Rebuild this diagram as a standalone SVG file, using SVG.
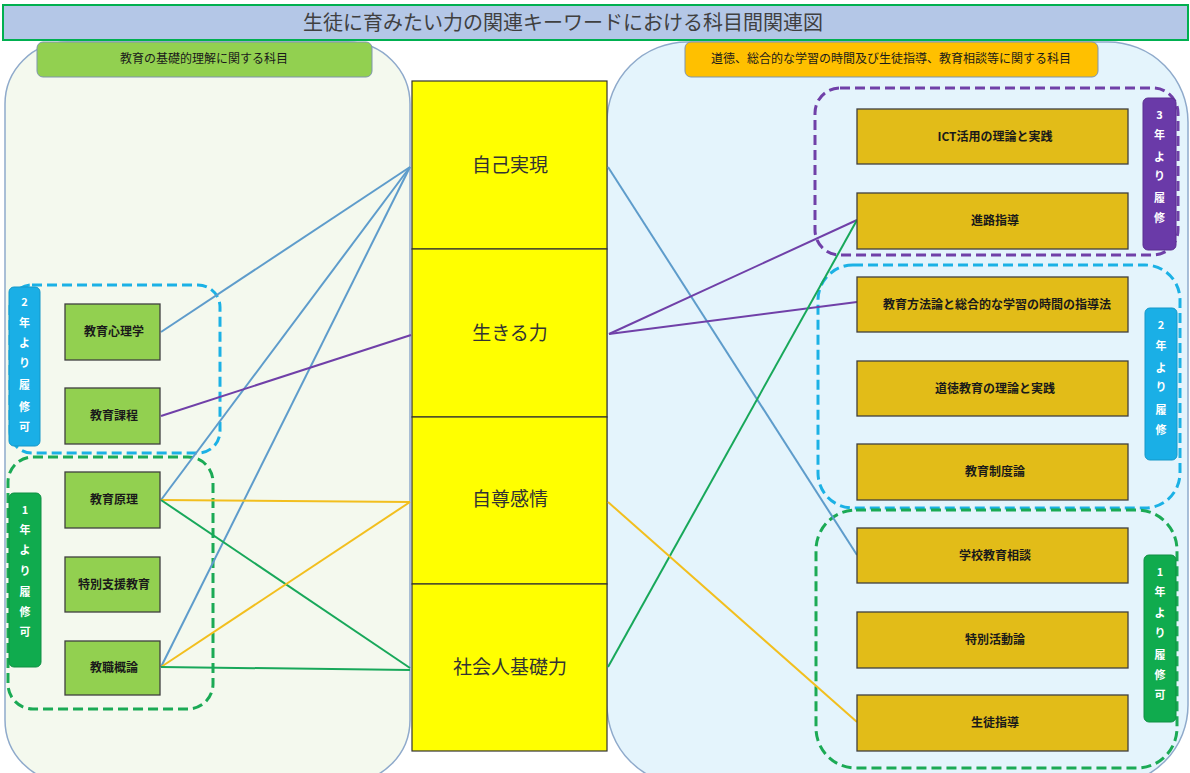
<svg xmlns="http://www.w3.org/2000/svg" width="1190" height="773" viewBox="0 0 1190 773">
<style>
text{font-family:"Noto Sans CJK JP","Noto Sans",sans-serif;}
.panel{stroke:#8FAACB;stroke-width:1.5;}
.hdr{stroke:#7F95AE;stroke-width:1;}
.hdrt{font-size:12px;fill:#1a1a1a;text-anchor:middle;}
.cell{fill:#FFFF00;stroke:#333;stroke-width:1.2;}
.cellt{font-size:19px;fill:#333;text-anchor:middle;}
.gbox{fill:#92D050;stroke:#3F3F3F;stroke-width:1.3;}
.ybox{fill:#E2BC18;stroke:#3F3F3F;stroke-width:1.3;}
.bt{font-size:12px;font-weight:bold;fill:#1a1a1a;text-anchor:middle;}
.dash{fill:none;stroke-width:3;stroke-dasharray:10 5;}
.lbl{stroke-width:1;}
.lt{font-size:11px;font-weight:bold;fill:#fff;text-anchor:middle;}
.c{fill:none;stroke-width:2;}
.blue{stroke:#5E9CCB;}
.purple{stroke:#7040A8;}
.orange{stroke:#F2BF1E;}
.green{stroke:#18A85A;}
</style>

<!-- panels -->
<g id="left-panel">
<rect class="panel" x="5" y="42" width="405" height="740" rx="62" fill="#F4F9EE"/>
</g>
<g id="right-panel">
<rect class="panel" x="607" y="42" width="581" height="743" rx="80" fill="#E4F4FC"/>
</g>

<!-- title -->
<g id="title">
<rect x="3" y="5" width="1185" height="35" fill="#B4C7E7" stroke="#00B050" stroke-width="2"/>
<text x="563" y="30" font-size="20" fill="#404040" text-anchor="middle">生徒に育みたい力の関連キーワードにおける科目間関連図</text>
</g>

<g id="left-header">
<rect class="hdr" x="37" y="42" width="335" height="35" rx="6" fill="#92D050"/>
<text class="hdrt" x="204" y="63">教育の基礎的理解に関する科目</text>
</g>
<g id="right-header">
<rect class="hdr" x="685" y="42" width="413" height="35" rx="6" fill="#FFC000"/>
<text class="hdrt" x="891" y="63" font-size="12.5">道徳、総合的な学習の時間及び生徒指導、教育相談等に関する科目</text>
</g>

<!-- center column -->
<g id="jikojitsugen">
<rect class="cell" x="412" y="81" width="195" height="168"/>
<text class="cellt" x="510" y="172">自己実現</text>
</g>
<g id="ikiruchikara">
<rect class="cell" x="412" y="249" width="195" height="168"/>
<text class="cellt" x="510" y="340">生きる力</text>
</g>
<g id="jisonkanjo">
<rect class="cell" x="412" y="417" width="195" height="167"/>
<text class="cellt" x="510" y="506">自尊感情</text>
</g>
<g id="shakaijin">
<rect class="cell" x="412" y="584" width="195" height="167"/>
<text class="cellt" x="510" y="674">社会人基礎力</text>
</g>

<!-- grouping frames -->
<g id="left-year2-frame"><rect class="dash" x="10" y="285" width="210" height="168" rx="22" stroke="#1BB1E5"/></g>
<g id="left-year1-frame"><rect class="dash" x="8" y="457" width="205" height="252" rx="25" stroke="#1BAA55"/></g>
<g id="right-year3-frame"><rect class="dash" x="815" y="88" width="363" height="167" rx="25" stroke="#7040A8"/></g>
<g id="right-year2-frame"><rect class="dash" x="818" y="265" width="362" height="243" rx="35" stroke="#1BB1E5"/></g>
<g id="right-year1-frame"><rect class="dash" x="816" y="510" width="361" height="258" rx="40" stroke="#1BAA55"/></g>

<!-- year labels -->
<g id="left-year2-label">
<rect class="lbl" x="9" y="287" width="31" height="159" rx="5" fill="#1AAFE6" stroke="#1597C8"/>
<text class="lt" x="24.5" y="306">2</text><text class="lt" x="24.5" y="327">年</text><text class="lt" x="24.5" y="347">よ</text><text class="lt" x="24.5" y="367">り</text><text class="lt" x="24.5" y="389">履</text><text class="lt" x="24.5" y="411">修</text><text class="lt" x="24.5" y="431">可</text>
</g>
<g id="left-year1-label">
<rect class="lbl" x="9" y="493" width="32" height="174" rx="5" fill="#10AB4E" stroke="#0E8F42"/>
<text class="lt" x="25" y="514">1</text><text class="lt" x="25" y="534">年</text><text class="lt" x="25" y="554">よ</text><text class="lt" x="25" y="575">り</text><text class="lt" x="25" y="596">履</text><text class="lt" x="25" y="616">修</text><text class="lt" x="25" y="636">可</text>
</g>
<g id="right-year3-label">
<rect class="lbl" x="1143" y="98" width="33" height="152" rx="5" fill="#6A3AA8" stroke="#5A2F90"/>
<text class="lt" x="1159.5" y="119">3</text><text class="lt" x="1159.5" y="139">年</text><text class="lt" x="1159.5" y="161">よ</text><text class="lt" x="1159.5" y="180">り</text><text class="lt" x="1159.5" y="202">履</text><text class="lt" x="1159.5" y="222">修</text>
</g>
<g id="right-year2-label">
<rect class="lbl" x="1145" y="308" width="32" height="152" rx="5" fill="#1AAFE6" stroke="#1597C8"/>
<text class="lt" x="1161" y="329">2</text><text class="lt" x="1161" y="350">年</text><text class="lt" x="1161" y="372">よ</text><text class="lt" x="1161" y="391">り</text><text class="lt" x="1161" y="414">履</text><text class="lt" x="1161" y="434">修</text>
</g>
<g id="right-year1-label">
<rect class="lbl" x="1144" y="555" width="32" height="167" rx="5" fill="#10AB4E" stroke="#0E8F42"/>
<text class="lt" x="1160" y="576">1</text><text class="lt" x="1160" y="596">年</text><text class="lt" x="1160" y="617">よ</text><text class="lt" x="1160" y="637">り</text><text class="lt" x="1160" y="659">履</text><text class="lt" x="1160" y="679">修</text><text class="lt" x="1160" y="699">可</text>
</g>

<!-- connectors -->
<g id="connectors">
<line class="c blue" x1="161" y1="332" x2="410" y2="167"/>
<line class="c blue" x1="161" y1="500" x2="410" y2="167"/>
<line class="c blue" x1="161" y1="667" x2="410" y2="167"/>
<line class="c purple" x1="161" y1="416" x2="411" y2="335"/>
<line class="c orange" x1="161" y1="500" x2="410" y2="502"/>
<line class="c green" x1="161" y1="500" x2="410" y2="668"/>
<line class="c orange" x1="161" y1="667" x2="410" y2="502"/>
<line class="c green" x1="161" y1="667" x2="410" y2="670"/>
<line class="c blue" x1="608" y1="167" x2="857" y2="555"/>
<line class="c purple" x1="609" y1="334" x2="857" y2="220"/>
<line class="c purple" x1="609" y1="334" x2="857" y2="302"/>
<line class="c green" x1="608" y1="667" x2="857" y2="220"/>
<line class="c orange" x1="608" y1="502" x2="857" y2="722"/>
</g>

<!-- left subject nodes -->
<g id="kyoiku-shinrigaku"><rect class="gbox" x="65" y="304" width="95" height="56"/><text class="bt" x="114" y="336">教育心理学</text></g>
<g id="kyoiku-katei"><rect class="gbox" x="65" y="388" width="95" height="56"/><text class="bt" x="114" y="420">教育課程</text></g>
<g id="kyoiku-genri"><rect class="gbox" x="65" y="472" width="95" height="56"/><text class="bt" x="114" y="504">教育原理</text></g>
<g id="tokubetsu-shien"><rect class="gbox" x="65" y="557" width="95" height="55"/><text class="bt" x="114" y="589">特別支援教育</text></g>
<g id="kyoshoku-gairon"><rect class="gbox" x="65" y="641" width="95" height="54"/><text class="bt" x="114" y="672">教職概論</text></g>

<!-- right subject nodes -->
<g id="ict"><rect class="ybox" x="857" y="109" width="271" height="55"/><text class="bt" x="995" y="141">ICT活用の理論と実践</text></g>
<g id="shinro"><rect class="ybox" x="857" y="193" width="271" height="56"/><text class="bt" x="995" y="225">進路指導</text></g>
<g id="hohoron"><rect class="ybox" x="857" y="277" width="271" height="55"/><text class="bt" x="997" y="309">教育方法論と総合的な学習の時間の指導法</text></g>
<g id="dotoku"><rect class="ybox" x="857" y="361" width="271" height="55"/><text class="bt" x="995" y="393">道徳教育の理論と実践</text></g>
<g id="seidoron"><rect class="ybox" x="857" y="444" width="271" height="56"/><text class="bt" x="995" y="476">教育制度論</text></g>
<g id="soudan"><rect class="ybox" x="857" y="528" width="271" height="55"/><text class="bt" x="995" y="560">学校教育相談</text></g>
<g id="tokkatsu"><rect class="ybox" x="857" y="612" width="271" height="56"/><text class="bt" x="995" y="644">特別活動論</text></g>
<g id="seito-shido"><rect class="ybox" x="857" y="695" width="271" height="56"/><text class="bt" x="995" y="727">生徒指導</text></g>
</svg>
